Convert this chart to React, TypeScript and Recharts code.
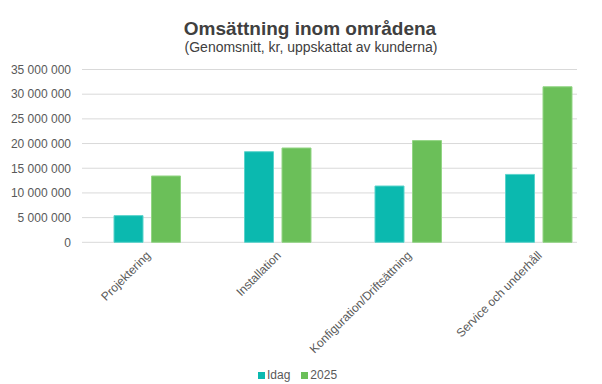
import React from 'react';
import { BarChart, Bar, XAxis, YAxis, CartesianGrid, Legend } from 'recharts';

const categories = ['Projektering', 'Installation', 'Konfiguration/Driftsättning', 'Service och underhåll'];
const idagValues = [5400000, 18350000, 11400000, 13750000];
const values2025 = [13430000, 19100000, 20600000, 31500000];
const yTicks = [0, 5000000, 10000000, 15000000, 20000000, 25000000, 30000000, 35000000];

const seriesNames = ['Idag', '2025'];
const TEAL = '#0bb9af';
const GREEN = '#6bbf59';
const FONT = '"Liberation Sans", Arial, sans-serif';
const TEXT = '#595959';

const data = categories.map((name, i) => ({
  name,
  idag: idagValues[i],
  y2025: values2025[i],
}));

// "35 000 000" style, space as thousands separator
const fmt = (v: number) => String(v).replace(/\B(?=(\d{3})+(?!\d))/g, ' ');

const XTick = ({ x, y, payload }: any) => (
  <text
    x={x + 4}
    y={y + 14}
    textAnchor="end"
    fontSize={12}
    fontFamily={FONT}
    fill={TEXT}
    transform={`rotate(-45, ${x + 4}, ${y + 14})`}
  >
    {payload.value}
  </text>
);

const LegendBox = () => (
  <div style={{ display: 'flex', alignItems: 'center', fontFamily: FONT, fontSize: 12, color: TEXT }}>
    <span style={{ width: 7, height: 7, background: TEAL, marginRight: 2 }} />
    <span style={{ marginRight: 11 }}>{seriesNames[0]}</span>
    <span style={{ width: 7, height: 7, background: GREEN, marginRight: 2 }} />
    <span>{seriesNames[1]}</span>
  </div>
);

export default function App() {
  return (
    <div style={{ position: 'absolute', left: 0, top: 0, width: 602, height: 384, overflow: 'hidden', background: '#fff' }}>
      <div
        style={{
          position: 'absolute', left: 110, width: 400, top: 19, textAlign: 'center',
          fontFamily: FONT, fontSize: 19, lineHeight: '19px', fontWeight: 'bold', color: '#404040',
        }}
      >
        Omsättning inom områdena
      </div>
      <div
        style={{
          position: 'absolute', left: 111, width: 400, top: 40, textAlign: 'center',
          fontFamily: FONT, fontSize: 14, lineHeight: '14px', color: '#404040',
        }}
      >
        (Genomsnitt, kr, uppskattat av kunderna)
      </div>
      <BarChart
        width={604}
        height={384}
        data={data}
        margin={{ top: 69.5, right: 0, bottom: 0, left: 0 }}
        barSize={29}
        barGap={8.5}
      >
        <CartesianGrid vertical={false} stroke="#d9d9d9" x={82} width={495} />
        <XAxis
          dataKey="name"
          axisLine={false}
          tickLine={false}
          tickSize={0}
          tickMargin={0}
          interval={0}
          height={141.7}
          tick={<XTick />}
        />
        <YAxis
          domain={[0, 35000000]}
          ticks={yTicks}
          tickFormatter={fmt}
          axisLine={false}
          tickLine={false}
          tickSize={0}
          tickMargin={11}
          width={82}
          tick={{ fontSize: 12, fontFamily: FONT, fill: TEXT }}
        />
        <Legend
          layout="horizontal"
          verticalAlign="middle"
          content={<LegendBox />}
          wrapperStyle={{ left: 258, top: 368, width: 'auto' }}
        />
        <Bar dataKey="idag" name={seriesNames[0]} fill={TEAL} stroke="#5ad3cb" strokeWidth={1} isAnimationActive={false} />
        <Bar dataKey="y2025" name={seriesNames[1]} fill={GREEN} stroke="#93d585" strokeWidth={1} isAnimationActive={false} />
      </BarChart>
    </div>
  );
}
